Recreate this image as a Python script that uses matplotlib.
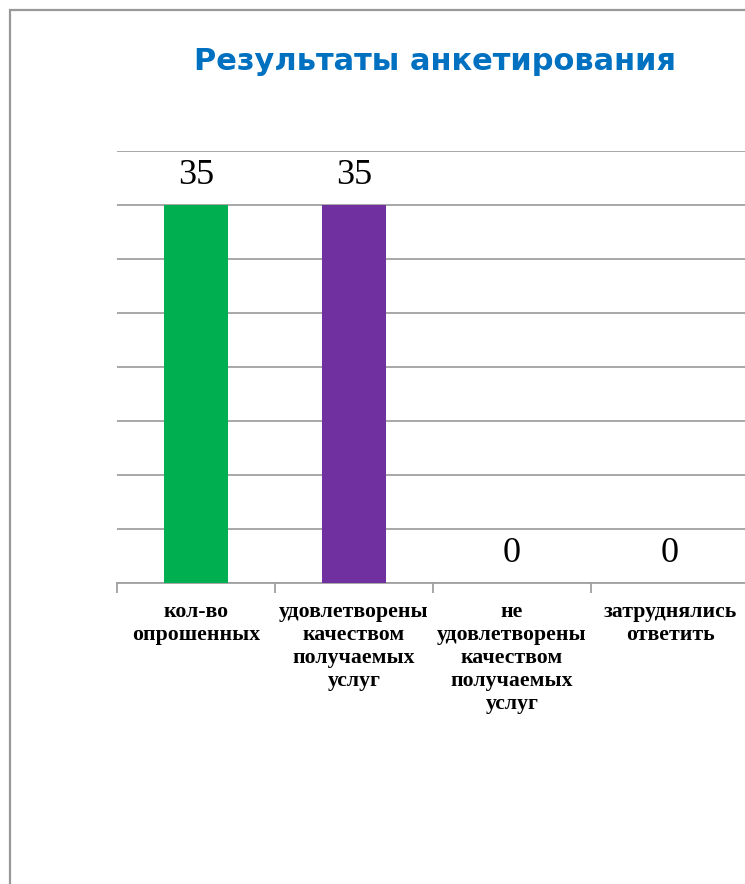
import matplotlib.pyplot as plt
from matplotlib.patches import Rectangle

categories = ["кол-во\nопрошенных",
              "удовлетворены\nкачеством\nполучаемых\nуслуг",
              "не\nудовлетворены\nкачеством\nполучаемых\nуслуг",
              "затруднялись\nответить"]
values = [35, 35, 0, 0]
colors = ["#00B050", "#7030A0", "#C0504D", "#4F81BD"]

fig = plt.figure(figsize=(7.45, 8.84), dpi=100)
# outer frame, only top and left edges fall inside the picture
top = 1 - 10 / 884
fig.patches.append(Rectangle((10 / 745, top - 2), 2, 2, transform=fig.transFigure,
                             fill=False, edgecolor="#999999", linewidth=1.6))

ax = fig.add_axes([117 / 745, 1 - 583 / 884, 632 / 745, 432 / 884])
x = list(range(len(categories)))
bars = ax.bar(x, values, width=0.405, color=colors, zorder=3)

ax.set_xlim(-0.5, len(categories) - 0.5)
ax.set_ylim(0, 40)
ax.set_yticks(range(0, 41, 5))
ax.yaxis.grid(True, color="#a0a0a0", linewidth=1.3)
ax.tick_params(axis="y", left=False, labelleft=False)

for s in ["left", "right", "top"]:
    ax.spines[s].set_visible(False)
ax.spines["bottom"].set_color("#a0a0a0")
ax.spines["bottom"].set_linewidth(1.3)

ax.set_xticks([i - 0.5 for i in x] + [len(x) - 0.5])
ax.set_xticklabels([])
ax.tick_params(axis="x", direction="out", length=7, color="#a0a0a0", width=1.3)
ax.set_xticks(x, minor=True)
ax.set_xticklabels(categories, minor=True, fontsize=15.7, fontweight="bold",
                   family="Liberation Serif", linespacing=1.2, va="top")
ax.tick_params(axis="x", which="minor", length=0, pad=14)

for b, v in zip(bars, values):
    ax.annotate(str(v), (b.get_x() + b.get_width() / 2, v),
                xytext=(0, 9), textcoords="offset points",
                ha="center", va="bottom", fontsize=26, family="Liberation Serif")

fig.text(0.584, 0.930, "Результаты анкетирования", ha="center", va="center",
         fontsize=22, fontweight="bold", color="#0070C0", family="DejaVu Sans")

fig.savefig("out.png", dpi=100)
